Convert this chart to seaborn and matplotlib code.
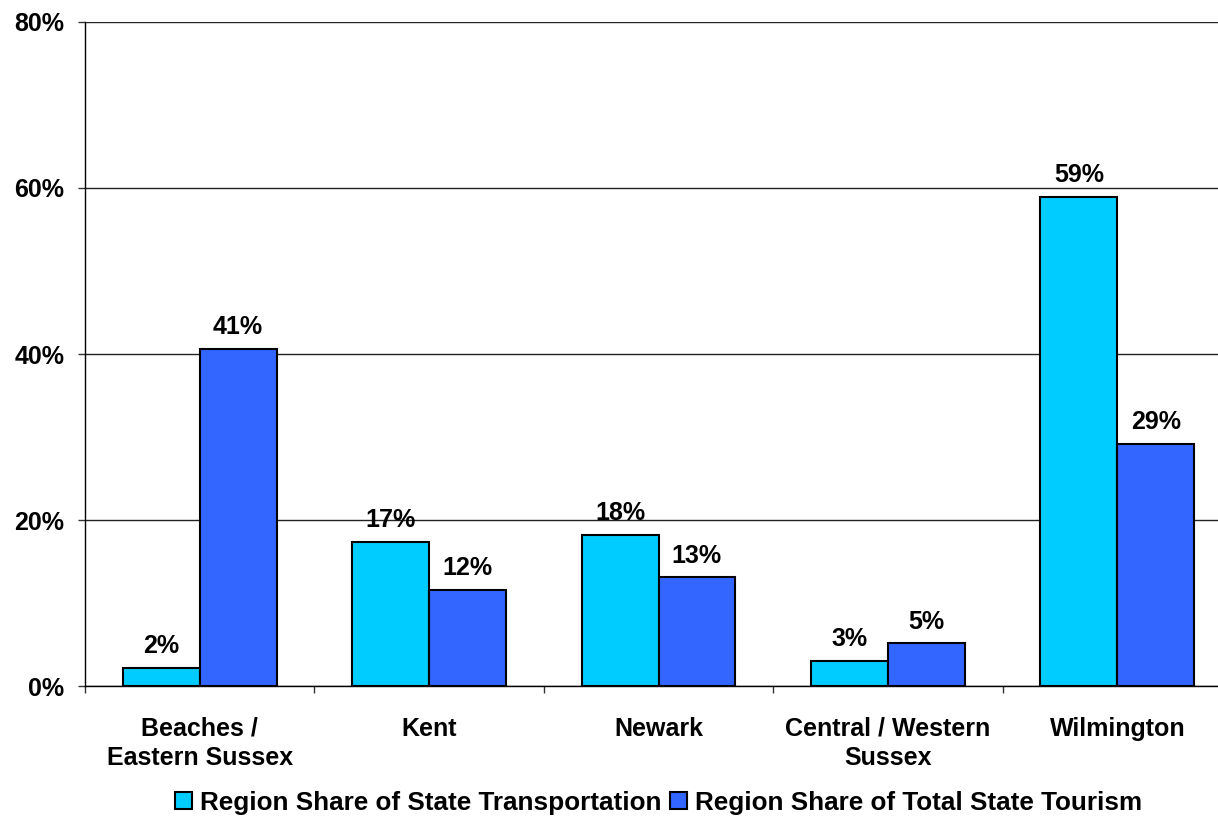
import pandas as pd
import numpy as np
import seaborn as sns
import matplotlib.pyplot as plt
from matplotlib.ticker import FuncFormatter, FixedLocator

# Data (percent)
regions = ['Beaches /\nEastern Sussex', 'Kent', 'Newark', 'Central / Western\nSussex', 'Wilmington']
transport = [2.2, 17.4, 18.2, 3.0, 58.9]
tourism = [40.6, 11.6, 13.1, 5.15, 29.2]
series = ['Region Share of State Transportation', 'Region Share of Total State Tourism']
colors = ['#00CCFF', '#3366FF']

df = pd.DataFrame({
    'Region': regions * 2,
    'Share': transport + tourism,
    'Series': [series[0]] * len(regions) + [series[1]] * len(regions),
})

sns.set_style('white')
plt.rcParams['font.family'] = ['Liberation Sans', 'DejaVu Sans']
plt.rcParams['font.weight'] = 'bold'
plt.rcParams['text.color'] = 'black'
plt.rcParams['xtick.color'] = 'black'
plt.rcParams['ytick.color'] = 'black'

fs = 18

fig = plt.figure(figsize=(12.18, 8.3), dpi=100)
ax = fig.add_axes([85 / 1218, 144 / 830, 1147 / 1218, 664 / 830])

sns.barplot(data=df, x='Region', y='Share', hue='Series', palette=colors, saturation=1,
            width=0.67, edgecolor='black', linewidth=1.5, ax=ax, legend=True)

# value labels above bars
for cont in ax.containers:
    ax.bar_label(cont, fmt=lambda v: f'{v:.0f}%', padding=7,
                 fontsize=fs, fontweight='bold', color='black')

ax.set_ylim(0, 80)
ax.set_xlim(-0.5, 4.5)
ax.set_yticks([0, 20, 40, 60, 80])
ax.yaxis.set_major_formatter(FuncFormatter(lambda v, p: f'{v:.0f}%'))
ax.yaxis.grid(True, color='#222222', linewidth=1.0)
ax.set_axisbelow(True)

ax.xaxis.set_minor_locator(FixedLocator([-0.5, 0.5, 1.5, 2.5, 3.5]))
ax.tick_params(axis='x', which='major', length=0, pad=22, labelsize=fs)
ax.tick_params(axis='x', which='minor', length=5, width=1, color='#333333', direction='out', bottom=True)
ax.tick_params(axis='y', length=5, width=1, color='#333333', direction='out', left=True, pad=10, labelsize=fs)
for lab in ax.get_xticklabels() + ax.get_yticklabels():
    lab.set_fontweight('bold')
    lab.set_linespacing(1.3)

ax.set_xlabel('')
ax.set_ylabel('')
for s in ['top', 'right']:
    ax.spines[s].set_visible(False)
ax.spines['left'].set_color('black')
ax.spines['bottom'].set_color('black')
ax.spines['left'].set_linewidth(1.0)
ax.spines['bottom'].set_linewidth(1.0)

leg = ax.legend(loc='center', bbox_to_anchor=(0.5, -0.176), ncol=2, frameon=False,
                prop={'size': 18.8, 'weight': 'bold'}, handlelength=0.65, handleheight=0.65,
                handletextpad=0.3, columnspacing=0.35)
for h in leg.legend_handles:
    h.set_edgecolor('black')
    h.set_linewidth(1.5)

fig.savefig('out.png', dpi=100)
